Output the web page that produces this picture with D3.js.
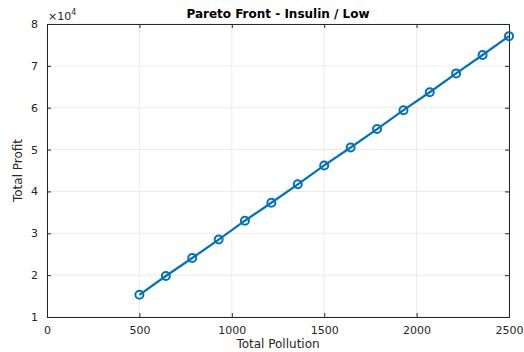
<!DOCTYPE html>
<html>
<head>
<meta charset="utf-8">
<script src="https://cdn.jsdelivr.net/npm/d3@7"></script>
<style>
  body { margin: 0; background: #fff; }
  svg text { font-family: "DejaVu Sans", Arial, sans-serif; }
</style>
</head>
<body>
<svg id="chart"></svg>
<script>
var width = 524, height = 352;
// data (profit in units of 1e4)
var pollution = [500, 643, 786, 929, 1071, 1214, 1357, 1500, 1643, 1786, 1929, 2071, 2214, 2357, 2500];
var profit = [1.53, 1.98, 2.41, 2.85, 3.30, 3.73, 4.17, 4.62, 5.05, 5.49, 5.94, 6.37, 6.82, 7.26, 7.71];
var xTicks = [0, 500, 1000, 1500, 2000, 2500];
var yTicks = [1, 2, 3, 4, 5, 6, 7, 8];

var m = {left: 47, right: 15, top: 24, bottom: 35};
var svg = d3.select("#chart").attr("width", width).attr("height", height);

var x = d3.scaleLinear().domain([0, 2500]).range([m.left, width - m.right]);
var y = d3.scaleLinear().domain([1, 8]).range([height - m.bottom, m.top]);

var gc = svg.append("g");

// grid
gc.selectAll(".gx").data(xTicks).join("line")
  .attr("x1", d => x(d)).attr("x2", d => x(d))
  .attr("y1", y(1)).attr("y2", y(8))
  .attr("stroke", "#ebebeb").attr("stroke-width", 1);
gc.selectAll(".gy").data(yTicks).join("line")
  .attr("x1", x(0)).attr("x2", x(2500))
  .attr("y1", d => y(d)).attr("y2", d => y(d))
  .attr("stroke", "#ebebeb").attr("stroke-width", 1);

// axes
var ax = d3.axisBottom(x).tickValues(xTicks).tickSize(-4).tickPadding(9).tickFormat(d3.format("d"));
var ay = d3.axisLeft(y).tickValues(yTicks).tickSize(-4).tickPadding(9).tickFormat(d3.format("d"));
var axt = d3.axisTop(x).tickValues(xTicks).tickSize(-4).tickFormat("");
var ayr = d3.axisRight(y).tickValues(yTicks).tickSize(-4).tickFormat("");

[[ax, "translate(0," + y(1) + ")"], [ay, "translate(" + x(0) + ",0)"],
 [axt, "translate(0," + y(8) + ")"], [ayr, "translate(" + x(2500) + ",0)"]].forEach(function(a){
  var g = gc.append("g").attr("transform", a[1]).call(a[0]);
  g.select(".domain").attr("stroke", "#262626").attr("stroke-width", 1);
  g.selectAll(".tick line").attr("stroke", "#262626");
  g.selectAll(".tick text").attr("fill", "#262626").attr("font-size", 11);
});

// series
var pts = pollution.map((p, i) => [p, profit[i]]);
gc.append("path")
  .datum(pts)
  .attr("fill", "none")
  .attr("stroke", "#0072BD")
  .attr("stroke-width", 2.2)
  .attr("d", d3.line().x(d => x(d[0])).y(d => y(d[1])));
gc.selectAll(".mk").data(pts).join("circle")
  .attr("cx", d => x(d[0]))
  .attr("cy", d => y(d[1]))
  .attr("r", 4)
  .attr("fill", "none")
  .attr("stroke", "#0072BD")
  .attr("stroke-width", 2);

// texts
svg.append("text")
  .attr("x", (x(0) + x(2500)) / 2).attr("y", 18)
  .attr("text-anchor", "middle")
  .attr("font-size", 12).attr("font-weight", "bold").attr("fill", "#000")
  .text("Pareto Front - Insulin / Low");
svg.append("text")
  .attr("x", (x(0) + x(2500)) / 2).attr("y", height - 4)
  .attr("text-anchor", "middle")
  .attr("font-size", 12).attr("fill", "#262626")
  .text("Total Pollution");
svg.append("text")
  .attr("transform", "translate(22," + ((y(1) + y(8)) / 2) + ") rotate(-90)")
  .attr("text-anchor", "middle")
  .attr("font-size", 12).attr("fill", "#262626")
  .text("Total Profit");
var ex = svg.append("text")
  .attr("x", x(0) + 1).attr("y", 20)
  .attr("font-size", 11).attr("fill", "#262626");
ex.append("tspan").text("\u00d710");
ex.append("tspan").attr("dy", -5).attr("font-size", 8).text("4");
</script>
</body>
</html>
